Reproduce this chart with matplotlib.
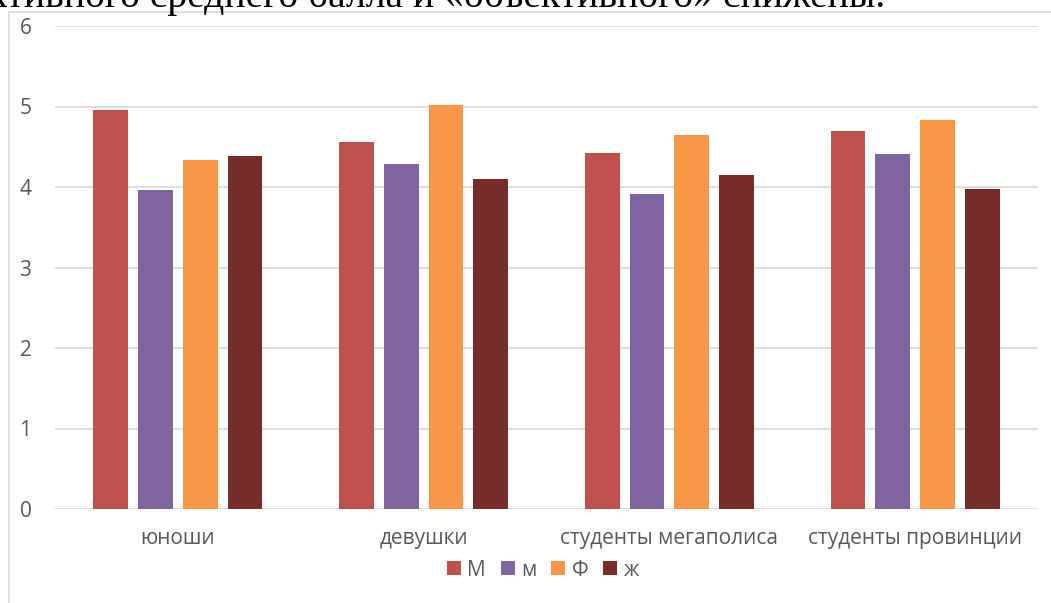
import numpy as np
import matplotlib
matplotlib.use("Agg")
import matplotlib.pyplot as plt
from matplotlib.patches import Rectangle

groups = ["юноши", "девушки", "студенты мегаполиса", "студенты провинции"]
series = ["М", "м", "Ф", "ж"]
val_M = [4.96, 4.56, 4.42, 4.70]
val_m = [3.96, 4.28, 3.91, 4.41]
val_F = [4.34, 5.02, 4.65, 4.83]
val_zh = [4.39, 4.10, 4.15, 3.97]
colors = ["#C0504D", "#8064A2", "#F79646", "#772C2A"]
yticks = [0, 1, 2, 3, 4, 5, 6]

plt.rcParams['font.family'] = ['Open Sans', 'DejaVu Sans']

fig = plt.figure(figsize=(10.51, 6.03), dpi=100)

# chart border (runs off the right and bottom of the picture)
fig.patches.append(Rectangle((9 / 1051, -0.1), 1.1, 1 - 12 / 603 + 0.1,
                             transform=fig.transFigure, fill=False,
                             edgecolor="#D9D9D9", linewidth=1.2))

# cut-off sentence from the document above the chart
fig.text(885 / 1051, 1 - 7 / 603, "субъективного среднего балла и «объективного» снижены.",
         family="Liberation Serif", fontsize=28.5, va="baseline", ha="right", color="black")

ax = fig.add_axes([55 / 1051, 1 - 509 / 603, (1038 - 55) / 1051, (509 - 26) / 603])

x = np.arange(len(groups))
width = 0.142
step = 0.182
all_vals = [val_M, val_m, val_F, val_zh]
for i, (name, vals) in enumerate(zip(series, all_vals)):
    ax.bar(x + (i - 1.5) * step, vals, width, color=colors[i], label=name, zorder=3)

ax.set_xlim(-0.5, 3.5)
ax.set_ylim(0, 6)
ax.set_yticks(yticks)
ax.set_xticks(x)
ax.set_xticklabels(groups)
ax.grid(axis="y", color="#D9D9D9", linewidth=1.2, zorder=0)
for s in ax.spines.values():
    s.set_visible(False)
ax.tick_params(length=0, labelsize=15, labelcolor="#595959")
ax.tick_params(axis="y", pad=17)
ax.tick_params(axis="x", pad=14)

fig.legend(loc="center", bbox_to_anchor=(543 / 1051, 1 - 570 / 603), ncol=4,
           frameon=False, fontsize=15, handlelength=0.67, handleheight=0.67,
           handletextpad=0.3, columnspacing=0.72, labelcolor="#595959")

fig.savefig("out.png", dpi=100)
